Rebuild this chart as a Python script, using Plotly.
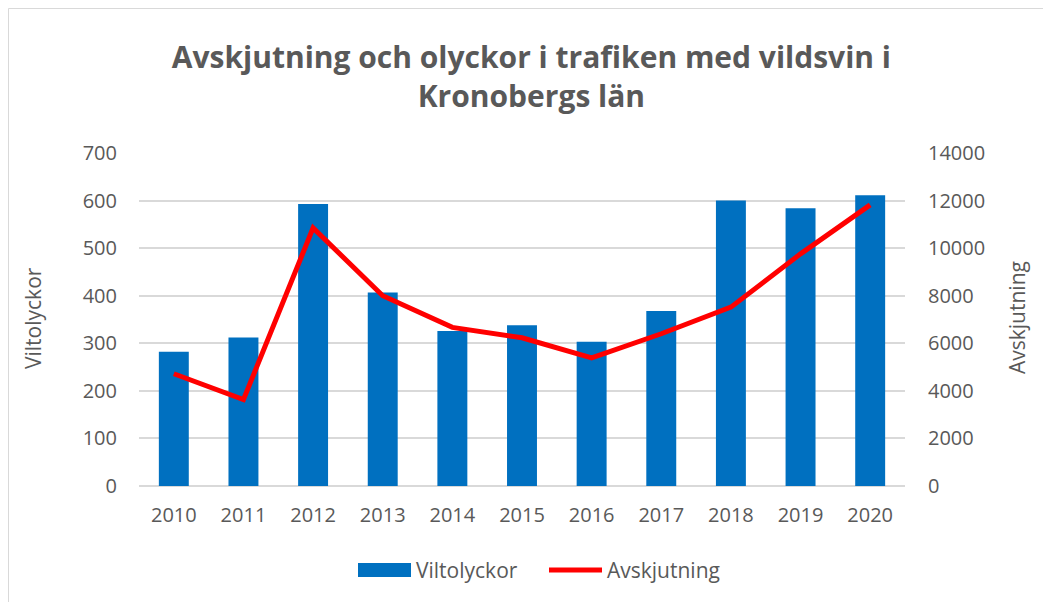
import plotly.graph_objects as go

years = ["2010", "2011", "2012", "2013", "2014", "2015", "2016", "2017", "2018", "2019", "2020"]
viltolyckor = [282, 312, 593, 407, 326, 338, 303, 368, 600, 584, 611]
avskjutning = [4720, 3630, 10850, 8000, 6670, 6230, 5390, 6400, 7520, 9760, 11820]

left_ticks = [0, 100, 200, 300, 400, 500, 600, 700]
right_ticks = [0, 2000, 4000, 6000, 8000, 10000, 12000, 14000]

TXT = "#595959"
FONT = "Open Sans"
BAR_COLOR = "#0070C0"
LINE_COLOR = "#FF0000"

W, H = 1051, 602
L, R, T, B = 131, 154, 145, 124
PW, PH = W - L - R, H - T - B


def px(x):
    return (x - L) / PW


def py(y):
    return (H - B - y) / PH


fig = go.Figure()
fig.add_trace(go.Bar(x=years, y=viltolyckor, name="Viltolyckor",
                     marker=dict(color=BAR_COLOR, line=dict(width=0)), yaxis="y",
                     showlegend=False))
fig.add_trace(go.Scatter(x=years, y=avskjutning, name="Avskjutning", mode="lines",
                         line=dict(color=LINE_COLOR, width=5), yaxis="y2",
                         showlegend=False))

fig.update_layout(
    width=W, height=H,
    margin=dict(l=L, r=R, t=T, b=B),
    paper_bgcolor="white", plot_bgcolor="white",
    bargap=0.57,
    font=dict(family=FONT, color=TXT, size=20),
    title=dict(text="<b>Avskjutning och olyckor i trafiken med vildsvin i<br>Kronobergs län</b>",
               x=0.498, xanchor="center", y=0.900, yanchor="middle",
               font=dict(family=FONT, size=30, color=TXT)),
    xaxis=dict(type="category", showgrid=False, showline=False, ticks="",
               tickfont=dict(size=20, color=TXT), ticklabelstandoff=15),
    yaxis=dict(range=[0, 700], tickvals=left_ticks, showgrid=True, gridcolor="#D9D9D9",
               gridwidth=1.5, zeroline=True, zerolinecolor="#D9D9D9", zerolinewidth=1.5,
               showline=False, tickfont=dict(size=20, color=TXT), ticklabelstandoff=21),
    yaxis2=dict(range=[0, 14000], tickvals=right_ticks, ticktext=[str(v) for v in right_ticks],
                overlaying="y", side="right",
                showgrid=False, zeroline=False, showline=False,
                tickfont=dict(size=20, color=TXT), ticklabelstandoff=22),
    showlegend=False,
)

# axis titles
fig.add_annotation(text="Viltolyckor", xref="paper", yref="paper", x=px(25), y=py(310),
                   textangle=-90, showarrow=False, font=dict(size=21, color=TXT),
                   xanchor="center", yanchor="middle")
fig.add_annotation(text="Avskjutning", xref="paper", yref="paper", x=px(1009), y=py(310),
                   textangle=-90, showarrow=False, font=dict(size=21, color=TXT),
                   xanchor="center", yanchor="middle")

# legend (drawn)
fig.add_shape(type="rect", xref="paper", yref="paper",
              x0=px(350), x1=px(403), y0=py(569), y1=py(555),
              line=dict(width=0), fillcolor=BAR_COLOR)
fig.add_annotation(text="Viltolyckor", xref="paper", yref="paper", x=px(406), y=py(562),
                   showarrow=False, font=dict(size=21, color=TXT),
                   xanchor="left", yanchor="middle")
fig.add_shape(type="line", xref="paper", yref="paper",
              x0=px(541), x1=px(594), y0=py(562), y1=py(562),
              line=dict(color=LINE_COLOR, width=5))
fig.add_annotation(text="Avskjutning", xref="paper", yref="paper", x=px(597), y=py(562),
                   showarrow=False, font=dict(size=21, color=TXT),
                   xanchor="left", yanchor="middle")

# chart border
fig.add_shape(type="rect", xref="paper", yref="paper",
              x0=px(0.5), x1=px(1042), y0=py(H + 5), y1=py(0.5),
              line=dict(color="#D9D9D9", width=1), fillcolor="rgba(0,0,0,0)", layer="below")

fig.write_html("out.html")
